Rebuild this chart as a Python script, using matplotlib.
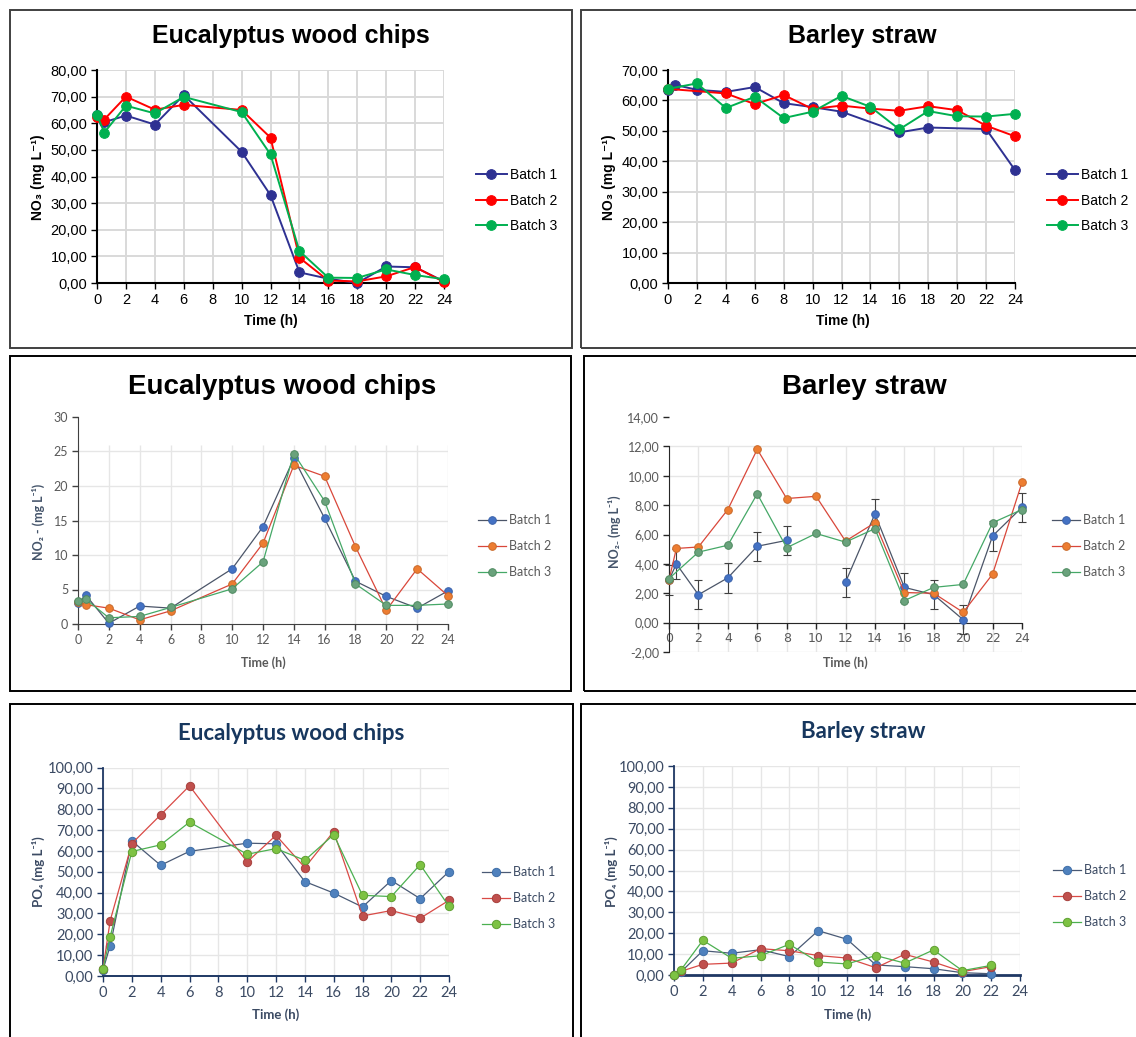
import numpy as np
import matplotlib
matplotlib.use("Agg")
import matplotlib.pyplot as plt
from matplotlib.patches import Rectangle
from matplotlib.lines import Line2D
from matplotlib.ticker import FuncFormatter

W, H = 1136, 1037
nan = np.nan

# ---- NO3, eucalyptus wood chips ----
t_no3_euc = [0, 0.5, 2, 4, 6, 10, 12, 14, 16, 18, 20, 22, 24]
no3_euc_b1 = [63.0, 60.4, 62.9, 59.5, 70.6, 49.3, 33.0, 4.0, 1.6, 0.0, 6.2, 5.9, 0.6]
no3_euc_b2 = [62.5, 61.4, 70.0, 65.1, 66.9, 65.0, 54.6, 9.5, 0.9, 0.6, 2.5, 6.0, 0.4]
no3_euc_b3 = [63.2, 56.5, 66.6, 63.7, 69.9, 64.2, 48.3, 12.0, 2.0, 1.9, 5.1, 3.0, 1.4]

# ---- NO3, barley straw ----
t_no3_bar = [0, 0.5, 2, 4, 6, 8, 10, 12, 14, 16, 18, 20, 22, 24]
no3_bar_b1 = [63.5, 65.1, 63.5, 62.8, 64.4, 59.1, 57.8, 56.3, nan, 49.5, 51.1, nan, 50.6, 37.1]
no3_bar_b2 = [63.8, nan, nan, 62.3, 58.8, 61.8, 57.2, 58.3, 57.3, 56.6, 58.1, 56.8, 51.7, 48.2]
no3_bar_b3 = [63.8, nan, 65.6, 57.5, 61.2, 54.2, 56.3, 61.5, 57.9, 50.5, 56.5, 54.8, 54.7, 55.6]

# ---- NO2, eucalyptus wood chips ----
t_no2_euc = [0, 0.5, 2, 4, 6, 10, 12, 14, 16, 18, 20, 22, 24]
no2_euc_b1 = [3.0, 4.2, 0.1, 2.6, 2.3, 8.0, 14.1, 24.0, 15.3, 6.2, 4.0, 2.3, 4.8]
no2_euc_b2 = [3.2, 2.8, 2.3, 0.6, 1.9, 5.8, 11.7, 23.0, 21.4, 11.2, 2.0, 8.0, 4.1]
no2_euc_b3 = [3.4, 3.6, 0.9, 1.1, 2.4, 5.1, 9.0, 24.7, 17.8, 5.8, 2.7, 2.7, 2.9]

# ---- NO2, barley straw (batch 1 with error bars) ----
t_no2_bar = [0, 0.5, 2, 4, 6, 8, 10, 12, 14, 16, 18, 20, 22, 24]
no2_bar_b1 = [2.9, 4.0, 1.9, 3.05, 5.2, 5.6, nan, 2.75, 7.4, 2.4, 1.9, 0.2, 5.9, 7.85]
no2_bar_b1_err = [1.0, 1.0, 1.0, 1.0, 1.0, 1.0, nan, 1.0, 1.0, 1.0, 1.0, 1.0, 1.0, 1.0]
no2_bar_b2 = [2.9, 5.05, 5.15, 7.7, 11.8, 8.45, 8.6, 5.55, 6.8, 2.05, 2.0, 0.7, 3.3, 9.55]
no2_bar_b3 = [3.0, nan, 4.8, 5.27, 8.77, 5.1, 6.07, 5.48, 6.4, 1.5, 2.4, 2.6, 6.8, 7.7]

# ---- PO4, eucalyptus wood chips ----
t_po4_euc = [0, 0.5, 2, 4, 6, 10, 12, 14, 16, 18, 20, 22, 24]
po4_euc_b1 = [2.9, 14.6, 64.8, 53.1, 59.8, 63.7, 63.4, 45.3, 39.8, 33.1, 45.8, 37.1, 50.1]
po4_euc_b2 = [3.5, 26.6, 63.5, 77.3, 91.2, 54.7, 67.5, 52.0, 69.3, 28.8, 31.4, 27.7, 36.3]
po4_euc_b3 = [3.5, 18.9, 59.7, 62.9, 73.8, 58.4, 61.1, 55.5, 67.8, 38.7, 38.1, 53.4, 33.4]

# ---- PO4, barley straw ----
t_po4_bar = [0, 0.5, 2, 4, 6, 8, 10, 12, 14, 16, 18, 20, 22]
po4_bar_b1 = [0.0, 1.6, 11.6, 10.4, 12.1, 8.8, 21.2, 17.1, 4.8, 4.0, 3.0, 1.1, 0.6]
po4_bar_b2 = [0.0, 1.8, 5.1, 5.7, 12.6, 11.6, 9.3, 8.1, 3.5, 9.9, 6.2, 1.6, 4.0]
po4_bar_b3 = [0.1, 2.6, 16.6, 8.0, 9.2, 14.7, 6.2, 5.3, 9.3, 5.7, 12.0, 2.1, 4.6]

batch_labels = ["Batch 1", "Batch 2", "Batch 3"]
hours = list(range(0, 25, 2))

ARIAL = ["Liberation Sans", "DejaVu Sans"]
CALIBRI = ["Lato", "DejaVu Sans"]

fig = plt.figure(figsize=(W / 100, H / 100), dpi=100)
fig.patch.set_facecolor("white")


def fx(x):
    return x / W


def fy(y):
    return 1 - y / H


def box(x0, y0, x1, y1, color):
    fig.add_artist(Rectangle((fx(x0), fy(y1)), fx(x1) - fx(x0), fy(y0) - fy(y1),
                             transform=fig.transFigure, fill=False, ec=color, lw=1.4))


def make_axes(x0, x1, y0, y1):
    ax = fig.add_axes([fx(x0), fy(y1), fx(x1) - fx(x0), fy(y0) - fy(y1)])
    ax.set_facecolor("none")
    for s in ["top", "right"]:
        ax.spines[s].set_visible(False)
    return ax


def put(x, y, s, **kw):
    fig.text(fx(x), fy(y), s, ha="center", va="center", **kw)


comma2 = FuncFormatter(lambda v, p: f"{v:.2f}".replace(".", ","))


def plot_series(ax, t, y, lc, mc, ec, ms, lw, connect=True):
    t = np.asarray(t, float)
    y = np.asarray(y, float)
    if connect:
        keep = ~np.isnan(y)
        t, y = t[keep], y[keep]
    ax.plot(t, y, color=lc, lw=lw, marker="o", ms=ms, mfc=mc, mec=ec, mew=0.7,
            clip_on=False, zorder=3)


def legend(styles, ms, lw, x, y, font, size, color, spacing):
    handles = [Line2D([], [], color=lc, lw=lw, marker="o", ms=ms, mfc=mc, mec=ec, mew=0.7)
               for lc, mc, ec in styles]
    fig.legend(handles, batch_labels, loc="upper left", bbox_to_anchor=(fx(x), fy(y)),
               bbox_transform=fig.transFigure, frameon=False, borderpad=0, borderaxespad=0,
               handlelength=2.2, handletextpad=0.25, labelspacing=spacing,
               prop={"family": font, "size": size}, labelcolor=color)


def style_ticks(ax, font, size, color, axcolor, ylab_fmt=comma2):
    ax.set_xticks(hours)
    ax.set_xlim(0, 24)
    ax.yaxis.set_major_formatter(ylab_fmt)
    ax.tick_params(direction="out", length=4, width=1, colors=axcolor, labelcolor=color,
                   labelsize=size, pad=3)
    for lab in ax.get_xticklabels() + ax.get_yticklabels():
        lab.set_family(font)
    for s in ["left", "bottom"]:
        ax.spines[s].set_color(axcolor)


# ================= top row: NO3 =================
top_styles = [("#2E3192", "#2E3192", "#2E3192"),
              ("#FF0000", "#FF0000", "#FF0000"),
              ("#00B050", "#00B050", "#00B050")]
box(10, 10, 572, 348, "#404040")
box(581, 10, 1145, 348, "#404040")

for (x0, x1, ymax, t, series, cx, lx, tx) in [
        (97, 444, 80, t_no3_euc, [no3_euc_b1, no3_euc_b2, no3_euc_b3], 291, 38, 271),
        (668, 1015, 70, t_no3_bar, [no3_bar_b1, no3_bar_b2, no3_bar_b3], 862, 609, 843)]:
    ax = make_axes(x0, x1, 70, 283)
    ax.set_ylim(0, ymax)
    ax.set_yticks(range(0, ymax + 1, 10))
    style_ticks(ax, ARIAL, 10.5, "black", "black")
    ax.spines["left"].set_linewidth(1.5)
    ax.spines["bottom"].set_linewidth(1.5)
    ax.grid(True, color="#D9D9D9", lw=1.4)
    ax.set_axisbelow(True)
    for y, (lc, mc, ec) in zip(series, top_styles):
        plot_series(ax, t, y, lc, mc, ec, 7, 1.4)
    title = "Eucalyptus wood chips" if x0 < 500 else "Barley straw"
    put(cx, 36, title, family=ARIAL, size=18, weight="bold", color="black")
    put(lx, 177, "NO₃ (mg L⁻¹)", family=ARIAL, size=10, weight="bold", rotation=90)
    put(tx, 321, "Time (h)", family=ARIAL, size=10, weight="bold")
    legend(top_styles, 7, 1.4, x0 + 379, 168, ARIAL, 10, "black", 0.84)

# ================= middle row: NO2 =================
mid_styles = [("#4B5568", "#4472C4", "#3A62AA"),
              ("#D9473A", "#ED7D31", "#C8692A"),
              ("#45A867", "#6AA27C", "#4E8A60")]
GRID = "#E6E6E6"
GRAY = "#595959"
box(10, 356, 571, 691, "black")
box(584, 356, 1145, 691, "black")

# eucalyptus
ax = make_axes(78, 448, 417, 624)
ax.set_ylim(0, 30)
ax.set_yticks(range(0, 31, 5))
style_ticks(ax, CALIBRI, 9, GRAY, "#404040", FuncFormatter(lambda v, p: f"{v:.0f}"))
ax.vlines(hours, 0, 26, color=GRID, lw=1, zorder=0)
ax.hlines(range(5, 26, 5), 0, 24, color=GRID, lw=1, zorder=0)
for y, (lc, mc, ec) in zip([no2_euc_b1, no2_euc_b2, no2_euc_b3], mid_styles):
    plot_series(ax, t_no2_euc, y, lc, mc, ec, 5.5, 0.9)
put(282, 387, "Eucalyptus wood chips", family=ARIAL, size=20, weight="bold", color="black")
put(38.5, 522, "NO₂ - (mg L⁻¹)", family=CALIBRI, size=9, weight="bold", color="#44546A", rotation=90)
put(263, 663, "Time (h)", family=CALIBRI, size=9, weight="bold", color=GRAY)
legend(mid_styles, 5.5, 0.9, 478, 514, CALIBRI, 9, GRAY, 1.13)

# barley
ax = make_axes(669, 1022, 417, 652)
ax.set_ylim(-2, 14)
ax.set_yticks(range(-2, 15, 2))
style_ticks(ax, CALIBRI, 9, GRAY, "#262626")
ax.spines["left"].set_bounds(-2, 12)
ax.spines["bottom"].set_position(("data", 0))
ax.vlines(hours, -2, 12, color=GRID, lw=1, zorder=0)
ax.hlines(range(-2, 13, 2), 0, 24, color=GRID, lw=1, zorder=0)
ax.errorbar(t_no2_bar, no2_bar_b1, yerr=no2_bar_b1_err, fmt="none", ecolor="#404040",
            elinewidth=0.8, capsize=3, capthick=0.8, zorder=2, clip_on=False)
plot_series(ax, t_no2_bar, no2_bar_b1, *mid_styles[0], 5.5, 0.9, connect=False)
plot_series(ax, t_no2_bar, no2_bar_b2, *mid_styles[1], 5.5, 0.9)
plot_series(ax, t_no2_bar, no2_bar_b3, *mid_styles[2], 5.5, 0.9)
put(864, 387, "Barley straw", family=ARIAL, size=20, weight="bold", color="black")
put(614, 532, "NO₂₋ (mg L⁻¹)", family=CALIBRI, size=9, weight="bold", color="#44546A", rotation=90)
put(845, 663, "Time (h)", family=CALIBRI, size=9, weight="bold", color=GRAY)
legend(mid_styles, 5.5, 0.9, 1052, 514, CALIBRI, 9, GRAY, 1.13)

# ================= bottom row: PO4 =================
bot_styles = [("#4A5A75", "#4F81BD", "#3F6FA8"),
              ("#D94A46", "#C0504D", "#A8403D"),
              ("#4CB050", "#7DC243", "#5FA032")]
NAVY = "#1F3864"
SLATE = "#3B4A63"
box(10, 704, 573, 1045, "black")
box(581, 704, 1145, 1045, "black")

for (x0, x1, yt, yb, t, series, cx, cy, title, lx, tx, ly) in [
        (103, 449, 767.5, 976, t_po4_euc, [po4_euc_b1, po4_euc_b2, po4_euc_b3],
         291, 734, "Eucalyptus wood chips", 38.5, 276, 866),
        (674, 1020, 766, 975, t_po4_bar, [po4_bar_b1, po4_bar_b2, po4_bar_b3],
         863, 732, "Barley straw", 611, 848, 864)]:
    ax = make_axes(x0, x1, yt, yb)
    ax.set_ylim(0, 100)
    ax.set_yticks(range(0, 101, 10))
    style_ticks(ax, CALIBRI, 10.5, SLATE, NAVY)
    ax.spines["left"].set_linewidth(1.3)
    ax.spines["bottom"].set_linewidth(2.0 if x0 > 500 else 1.4)
    ax.grid(True, color=GRID, lw=1)
    ax.set_axisbelow(True)
    for y, (lc, mc, ec) in zip(series, bot_styles):
        plot_series(ax, t, y, lc, mc, ec, 6, 0.9)
    put(cx, cy, title, family=CALIBRI, size=16, weight="bold", color="#17375E")
    put(lx, 872, "PO₄ (mg L⁻¹)", family=CALIBRI, size=9.5, weight="bold", color=SLATE, rotation=90)
    put(tx, 1015, "Time (h)", family=CALIBRI, size=9.5, weight="bold", color=SLATE)
    legend(bot_styles, 6, 0.9, x0 + 379, ly, CALIBRI, 9, SLATE, 1.13)

fig.savefig("out.png", dpi=100)
